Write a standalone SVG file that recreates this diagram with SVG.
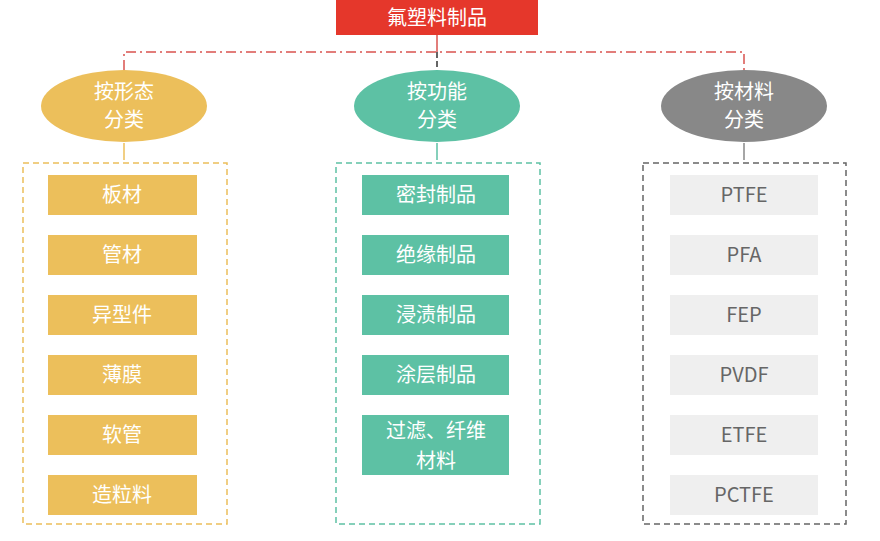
<svg xmlns="http://www.w3.org/2000/svg" width="880" height="541" viewBox="0 0 880 541">
<style>
text{font-family:"Noto Sans CJK SC","Noto Sans",sans-serif;text-anchor:middle;font-size:20px;fill:#fff}
.y{fill:#ecbf5b}.g{fill:#5dc1a4}.l{fill:#efefef}
.t{fill:#666}
.d{fill:none;stroke-width:1.5;stroke-dasharray:6 4}
</style>
<rect width="880" height="541" fill="#fff"/>
<g id="connectors" fill="none" stroke-width="1.5">
<path d="M124 70V52H744V70" stroke="#d9534f" stroke-dasharray="10 4 2 4"/>
<path d="M437 35V52" stroke="#d9534f"/>
<path d="M437 52V68" stroke="#333" stroke-dasharray="6 3"/>
<path d="M124 143V160" stroke="#ecbf5b"/>
<path d="M437 143V160" stroke="#5dc1a4"/>
<path d="M744 143V160" stroke="#888"/>
</g>
<g id="root"><rect x="336" y="0" width="202" height="35" fill="#e5372b"/><text x="437" y="25">氟塑料制品</text></g>
<g id="shape"><ellipse cx="124" cy="106" rx="83" ry="36" class="y"/><text x="124" y="99">按形态</text><text x="124" y="127">分类</text></g>
<g id="func"><ellipse cx="437" cy="106" rx="83" ry="36" class="g"/><text x="437" y="99">按功能</text><text x="437" y="127">分类</text></g>
<g id="mat"><ellipse cx="744" cy="106" rx="83" ry="36" fill="#888"/><text x="744" y="99">按材料</text><text x="744" y="127">分类</text></g>
<g id="col1">
<rect x="23" y="163" width="204" height="361" class="d" stroke="#ecbf5b"/>
<rect x="48" y="175" width="149" height="40" class="y"/><text x="122" y="202">板材</text>
<rect x="48" y="235" width="149" height="40" class="y"/><text x="122" y="262">管材</text>
<rect x="48" y="295" width="149" height="40" class="y"/><text x="122" y="322">异型件</text>
<rect x="48" y="355" width="149" height="40" class="y"/><text x="122" y="382">薄膜</text>
<rect x="48" y="415" width="149" height="40" class="y"/><text x="122" y="442">软管</text>
<rect x="48" y="475" width="149" height="40" class="y"/><text x="122" y="502">造粒料</text>
</g>
<g id="col2">
<rect x="336" y="163" width="204" height="361" class="d" stroke="#5dc1a4"/>
<rect x="362" y="175" width="147" height="40" class="g"/><text x="436" y="202">密封制品</text>
<rect x="362" y="235" width="147" height="40" class="g"/><text x="436" y="262">绝缘制品</text>
<rect x="362" y="295" width="147" height="40" class="g"/><text x="436" y="322">浸渍制品</text>
<rect x="362" y="355" width="147" height="40" class="g"/><text x="436" y="382">涂层制品</text>
<rect x="362" y="415" width="147" height="60" class="g"/><text x="436" y="438">过滤、纤维</text><text x="436" y="468">材料</text>
</g>
<g id="col3">
<rect x="643" y="163" width="203" height="361" class="d" stroke="#666"/>
<rect x="670" y="175" width="148" height="40" class="l"/><text x="744" y="202" class="t">PTFE</text>
<rect x="670" y="235" width="148" height="40" class="l"/><text x="744" y="262" class="t">PFA</text>
<rect x="670" y="295" width="148" height="40" class="l"/><text x="744" y="322" class="t">FEP</text>
<rect x="670" y="355" width="148" height="40" class="l"/><text x="744" y="382" class="t">PVDF</text>
<rect x="670" y="415" width="148" height="40" class="l"/><text x="744" y="442" class="t">ETFE</text>
<rect x="670" y="475" width="148" height="40" class="l"/><text x="744" y="502" class="t">PCTFE</text>
</g>
</svg>
